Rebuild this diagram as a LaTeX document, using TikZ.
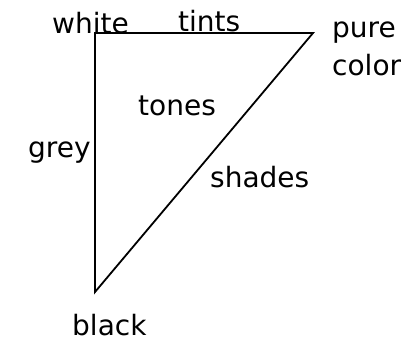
\documentclass[tikz,border=0pt]{standalone}
\usepackage{fontspec}
\setmainfont{DejaVu Sans}
\usetikzlibrary{positioning}

\begin{document}
\begin{tikzpicture}[
    x=1pt, y=-1pt,
    font=\fontsize{28}{30}\selectfont,
    corner/.style={
        circle, inner sep=0pt, minimum size=0pt
    },
    label_text/.style={
        anchor=base west, inner sep=0pt
    },
    edge/.style={
        line width=1.8pt, draw=black, line join=miter
    }
]
    \useasboundingbox (0,0) rectangle (411,341);

    % =========================================================================
    % TRIANGLE CORNERS
    % =========================================================================
    \node [corner] (white_pt) at (95, 33) {};
    \node [corner] (pure_pt) at (313, 33) {};
    \node [corner] (black_pt) at (95, 292) {};

    \draw [edge] (white_pt.center) -- (pure_pt.center) -- (black_pt.center) -- cycle;

    % =========================================================================
    % LABELS
    % =========================================================================
    \node [label_text] (white_lbl) at (52, 33) {white};
    \node [label_text] (tints_lbl) at (178, 31) {tints};
    \node [label_text] (pure_lbl) at (332, 37) {pure};
    \node [label_text] (color_lbl) at (332, 75) {color};
    \node [label_text] (tones_lbl) at (138, 115) {tones};
    \node [label_text] (grey_lbl) at (28, 157) {grey};
    \node [label_text] (shades_lbl) at (210, 187) {shades};
    \node [label_text] (black_lbl) at (72, 335) {black};

\end{tikzpicture}
\end{document}
